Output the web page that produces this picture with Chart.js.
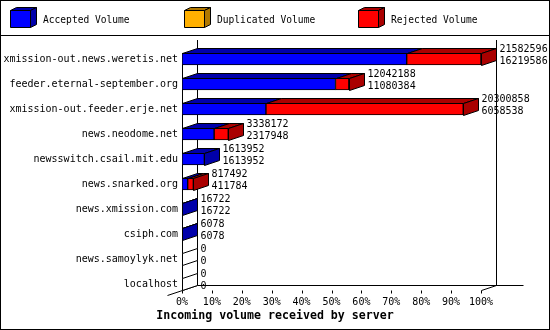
<!DOCTYPE html>
<html lang="en">
<head>
  <meta charset="UTF-8">
  <title>Incoming volume received by server</title>
  <script src="https://cdn.jsdelivr.net/npm/chart.js"></script>
  <style>
    body {
      margin: 0;
      background: #fff;
    }
    canvas {
      display: block;
    }
  </style>
</head>
<body>
  <canvas id="grafica" width="550" height="330"></canvas>

  <script>
    // Datos
    const servers = [
      'xmission-out.news.weretis.net',
      'feeder.eternal-september.org',
      'xmission-out.feeder.erje.net',
      'news.neodome.net',
      'newsswitch.csail.mit.edu',
      'news.snarked.org',
      'news.xmission.com',
      'csiph.com',
      'news.samoylyk.net',
      'localhost'
    ];
    const totalVolume = [21582596, 12042188, 20300858, 3338172, 1613952, 817492, 16722, 6078, 0, 0];
    const acceptedVolume = [16219586, 11080384, 6058538, 2317948, 1613952, 411784, 16722, 6078, 0, 0];
    const duplicatedVolume = [0, 0, 0, 0, 0, 0, 0, 0, 0, 0];
    const rejectedVolume = [5363010, 961804, 14242320, 1020224, 0, 405708, 0, 0, 0, 0];
    const tickPercent = [0, 10, 20, 30, 40, 50, 60, 70, 80, 90, 100];

    const maxVolume = Math.max(...totalVolume);
    const DX = 15, DY = 5;   // profundidad 3D
    const fuente = '"DejaVu Sans Mono", monospace';

    function caja(ctx, pts, fill) {
      ctx.beginPath();
      ctx.moveTo(pts[0][0], pts[0][1]);
      for (let k = 1; k < pts.length; k++) ctx.lineTo(pts[k][0], pts[k][1]);
      ctx.closePath();
      ctx.fillStyle = fill;
      ctx.fill();
      ctx.strokeStyle = '#000';
      ctx.lineWidth = 1;
      ctx.stroke();
    }

    const r = v => Math.round(v) + 0.5;

    const deco = {
      id: 'deco',
      beforeDraw(chart) {
        const ctx = chart.ctx;
        ctx.save();
        ctx.fillStyle = '#fff';
        ctx.fillRect(0, 0, chart.width, chart.height);
        ctx.restore();
      },
      beforeDatasetsDraw(chart) {
        const ctx = chart.ctx;
        const xs = chart.scales.x, ys = chart.scales.y;
        const x0 = r(xs.getPixelForValue(0));
        const x1 = r(xs.getPixelForValue(maxVolume));
        const last = ys.getPixelForValue(servers.length - 1);
        const floor = r(last + 6);
        const first = ys.getPixelForValue(0);
        ctx.save();
        ctx.strokeStyle = '#000';
        ctx.lineWidth = 1;
        ctx.beginPath();
        // paredes del fondo
        ctx.moveTo(x0 + DX, 40); ctx.lineTo(x0 + DX, floor - DY);
        ctx.moveTo(x1 + DX, 40); ctx.lineTo(x1 + DX, floor - DY);
        ctx.moveTo(x0 + DX, floor - DY); ctx.lineTo(x1 + DX + 27, floor - DY);
        // suelo
        ctx.moveTo(x0 - DX, floor + DY); ctx.lineTo(x0 + DX, floor - DY);
        ctx.moveTo(x1, floor); ctx.lineTo(x1 + DX, floor - DY);
        // eje frontal
        ctx.moveTo(x0, r(first - 6)); ctx.lineTo(x0, floor);
        // marcas del eje x
        xs.ticks.forEach(t => {
          const px = r(xs.getPixelForValue(t.value));
          ctx.moveTo(px, floor); ctx.lineTo(px, floor + 3);
        });
        ctx.stroke();
        ctx.restore();
      },
      afterDatasetsDraw(chart) {
        const ctx = chart.ctx;
        const xs = chart.scales.x;
        const sets = chart.data.datasets;
        ctx.save();
        servers.forEach((s, i) => {
          let endX = xs.getPixelForValue(0), sideColor = '#fff', yc = 0, h = 12;
          sets.forEach((ds, d) => {
            const el = chart.getDatasetMeta(d).data[i];
            yc = el.y; h = el.height;
            const top = r(el.y - el.height / 2);
            if (ds.data[i] > 0) {
              const a = r(el.base), b = r(el.x);
              caja(ctx, [[a, top], [b, top], [b + DX, top - DY], [a + DX, top - DY]], ds.sideColor);
              sideColor = ds.sideColor;
              endX = el.x;
            }
          });
          const top = r(yc - h / 2), bot = r(yc + h / 2);
          const ex = r(endX);
          caja(ctx, [[ex, top], [ex + DX, top - DY], [ex + DX, bot - DY], [ex, bot]], sideColor);

          ctx.fillStyle = '#000';
          ctx.font = '10px ' + fuente;
          ctx.textAlign = 'left';
          ctx.textBaseline = 'middle';
          ctx.fillText(String(totalVolume[i]), ex + DX + 3, yc - 10);
          ctx.fillText(String(acceptedVolume[i]), ex + DX + 3, yc + 2);
        });
        ctx.restore();
      },
      afterDraw(chart) {
        const ctx = chart.ctx;
        const sets = chart.data.datasets;
        ctx.save();
        // leyenda
        const lx = [10, 184, 358];
        sets.forEach((ds, d) => {
          const x = lx[d] + 0.5, y = 10.5;
          caja(ctx, [[x, y], [x + 20, y], [x + 26, y - 3], [x + 6, y - 3]], ds.sideColor);
          caja(ctx, [[x + 20, y], [x + 26, y - 3], [x + 26, y + 14], [x + 20, y + 17]], ds.sideColor);
          caja(ctx, [[x, y], [x + 20, y], [x + 20, y + 17], [x, y + 17]], ds.backgroundColor);
          ctx.fillStyle = '#000';
          ctx.font = '9.6px ' + fuente;
          ctx.textAlign = 'left';
          ctx.textBaseline = 'middle';
          ctx.fillText(ds.label, lx[d] + 33, 20);
        });
        ctx.strokeStyle = '#000';
        ctx.lineWidth = 1;
        ctx.beginPath();
        ctx.moveTo(0, 35.5); ctx.lineTo(550, 35.5);
        ctx.stroke();
        ctx.strokeRect(0.5, 0.5, chart.width - 1, chart.height - 1);
        // titulo del eje
        ctx.fillStyle = '#000';
        ctx.font = 'bold 11.6px ' + fuente;
        ctx.textAlign = 'center';
        ctx.textBaseline = 'middle';
        ctx.fillText('Incoming volume received by server', 275, 316);
        ctx.restore();
      }
    };

    const ctx = document.getElementById('grafica').getContext('2d');
    const grafica = new Chart(ctx, {
      type: 'bar',
      data: {
        labels: servers,
        datasets: [
          { label: 'Accepted Volume', data: acceptedVolume, backgroundColor: '#0000ff', sideColor: '#0000aa' },
          { label: 'Duplicated Volume', data: duplicatedVolume, backgroundColor: '#ffb000', sideColor: '#b07800' },
          { label: 'Rejected Volume', data: rejectedVolume, backgroundColor: '#ff0000', sideColor: '#aa0000' }
        ]
      },
      options: {
        indexAxis: 'y',
        responsive: false,
        animation: false,
        layout: { padding: { top: 46.5, right: 69, left: 0, bottom: 0 } },
        datasets: {
          bar: { barThickness: 12, borderWidth: 1, borderColor: '#000', borderSkipped: false }
        },
        plugins: {
          legend: { display: false },
          tooltip: { enabled: false }
        },
        scales: {
          x: {
            stacked: true,
            min: 0,
            max: maxVolume,
            afterBuildTicks: s => { s.ticks = tickPercent.map(p => ({ value: p / 100 * maxVolume })); },
            afterFit: s => { s.height = 33.5; },
            grid: { display: false, drawTicks: false },
            border: { display: false },
            ticks: {
              autoSkip: false,
              maxRotation: 0,
              padding: 0,
              color: '#000',
              font: { family: fuente, size: 10 },
              callback: v => Math.round(v / maxVolume * 100) + '%'
            }
          },
          y: {
            stacked: true,
            afterFit: s => { s.width = 182; },
            grid: { display: false, drawTicks: false },
            border: { display: false },
            ticks: {
              autoSkip: false,
              padding: 4,
              color: '#000',
              font: { family: fuente, size: 10 }
            }
          }
        }
      },
      plugins: [deco]
    });
  </script>
</body>
</html>
